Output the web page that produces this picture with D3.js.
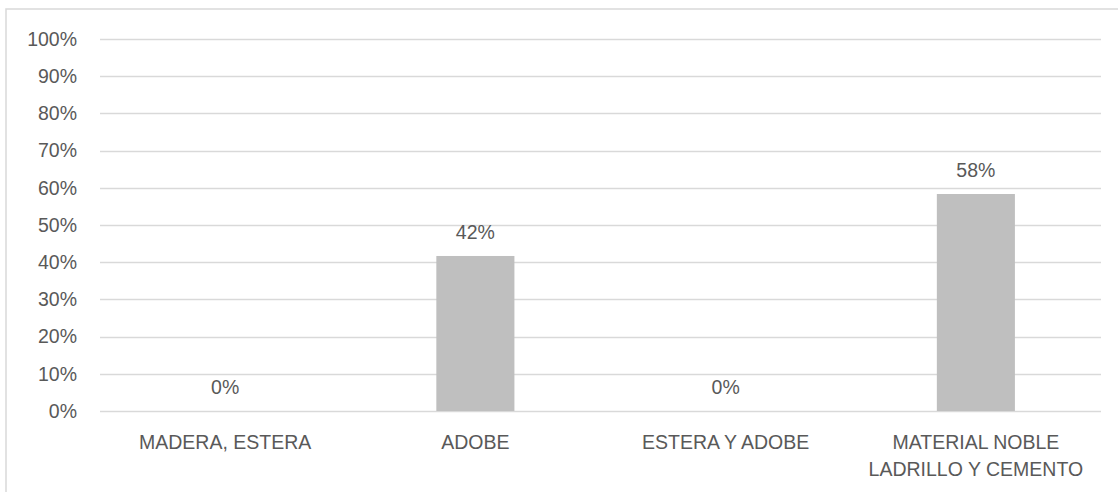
<!DOCTYPE html>
<html><head><meta charset="utf-8">
<script src="https://cdn.jsdelivr.net/npm/d3@7"></script>
<style>body{margin:0;background:#fff;} text{font-family:"Liberation Sans",Arial,sans-serif;fill:#595959;}</style>
</head><body>
<svg id="c" width="1118" height="492"></svg>
<script>
const categories = [["MADERA, ESTERA"], ["ADOBE"], ["ESTERA Y ADOBE"], ["MATERIAL NOBLE", "LADRILLO Y CEMENTO"]];
const values = [0, 0.4167, 0, 0.5833];
const valueLabels = ["0%", "42%", "0%", "58%"];
const ticks = [0, 0.1, 0.2, 0.3, 0.4, 0.5, 0.6, 0.7, 0.8, 0.9, 1.0];

(function() {
const svg = d3.select("#c");
const fs = 19.5;
// outer border
svg.append("rect").attr("x", 6).attr("y", 9).attr("width", 1130).attr("height", 500)
  .attr("fill", "none").attr("stroke", "#d9d9d9").attr("stroke-width", 1.5);

const pL = 100, pR = 1101, pT = 39, pB = 411;
const x = d3.scaleBand().domain(d3.range(categories.length)).range([pL, pR]).paddingInner(0.688).paddingOuter(0.344);
const y = d3.scaleLinear().domain([0, 1]).range([pB, pT]);

// gridlines
svg.append("g").selectAll("line").data(ticks).join("line")
  .attr("x1", pL).attr("x2", pR)
  .attr("y1", d => Math.round(y(d)) + 0.5).attr("y2", d => Math.round(y(d)) + 0.5)
  .attr("stroke", "#d9d9d9").attr("stroke-width", 1.3);

// y tick labels
svg.append("g").selectAll("text").data(ticks).join("text")
  .attr("x", 77).attr("y", d => y(d)).attr("dy", "0.35em")
  .attr("text-anchor", "end").attr("font-size", fs)
  .text(d => d3.format(".0%")(d));

// bars
svg.append("g").selectAll("rect").data(values).join("rect")
  .attr("x", (d, i) => x(i)).attr("width", x.bandwidth())
  .attr("y", d => y(d)).attr("height", d => y(0) - y(d))
  .attr("fill", "#bfbfbf");

// value labels
svg.append("g").selectAll("text").data(values).join("text")
  .attr("x", (d, i) => x(i) + x.bandwidth() / 2).attr("y", d => y(d) - 17)
  .attr("text-anchor", "middle").attr("font-size", fs)
  .text((d, i) => valueLabels[i]);

// category labels
const cg = svg.append("g").selectAll("text").data(categories).join("text")
  .attr("text-anchor", "middle").attr("font-size", fs);
cg.each(function(lines, i) {
  const t = d3.select(this);
  const cx = x(i) + x.bandwidth() / 2;
  lines.forEach((l, j) => {
    t.append("tspan").attr("x", cx).attr("y", 449 + j * 27).text(l);
  });
});
})();
</script>
</body></html>
